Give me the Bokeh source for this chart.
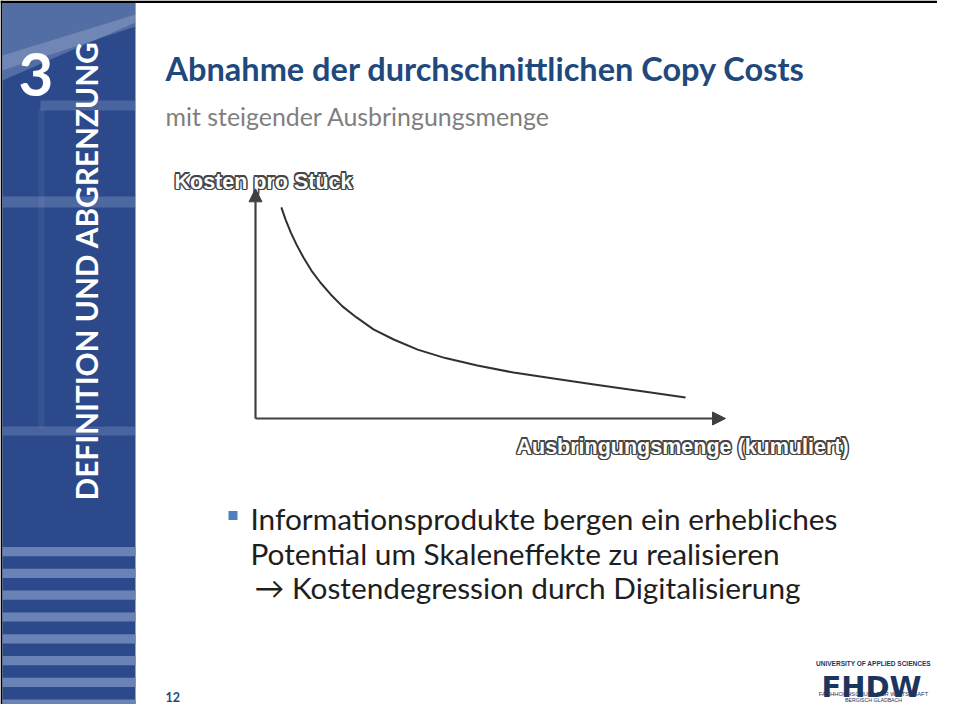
import numpy as np
from bokeh.plotting import figure
from bokeh.models import Range1d, Arrow, NormalHead
from bokeh.core.properties import value
from bokeh.embed import file_html
from bokeh.resources import INLINE

# ---------------- data ----------------
quantity = [5.5, 6.4, 7.5, 8.7, 10.2, 11.9, 13.8, 16.0, 18.5, 21.5, 25.1, 29.4,
            34.5, 40.4, 47.2, 54.9, 63.4, 72.8, 82.6, 91.5]
unit_cost = [91.9, 86.6, 81.0, 75.8, 70.1, 64.4, 59.2, 54.0, 48.8, 44.0, 38.8, 34.4,
             30.0, 26.3, 23.1, 20.0, 17.4, 14.6, 11.8, 9.1]
y_label = "Kosten pro Stück"
x_label = "Ausbringungsmenge (kumuliert)"
title = "Abnahme der durchschnittlichen Copy Costs"
subtitle = "mit steigender Ausbringungsmenge"
bullet_lines = ["Informationsprodukte bergen ein erhebliches",
                "Potential um Skaleneffekte zu realisieren"]
arrow_line = "\u2192 Kostendegression durch Digitalisierung"
section_number = "3"
section_title = "DEFINITION UND ABGRENZUNG"
page_number = "12"
logo_top = "UNIVERSITY OF APPLIED SCIENCES"
logo_name = "FHDW"
logo_sub1 = "FACHHOCHSCHULE DER WIRTSCHAFT"
logo_sub2 = "BERGISCH GLADBACH"

# ---------------- page / figure ----------------
W, H = 937, 704
X0, X1, Y0, Y1 = 0, W, H, 0          # picture-pixel coordinates (y downwards)
p = figure(width=W, height=H, x_range=Range1d(X0, X1), y_range=Range1d(Y0, Y1),
           output_backend="svg", toolbar_location=None, min_border=0,
           x_axis_location=None, y_axis_location=None)
p.grid.visible = False
p.outline_line_color = None
p.background_fill_color = "white"
p.border_fill_color = "white"

# chart coordinate system (0..100 in both directions)
ox, oy = 255.0, 418.0          # origin on page
sx, sy = 4.70, 2.297           # page px per chart unit
p.extra_x_ranges = {"q": Range1d((X0 - ox) / sx, (X1 - ox) / sx)}
p.extra_y_ranges = {"c": Range1d((oy - Y0) / sy, (oy - Y1) / sy)}

# ---------------- frame / sidebar ----------------
p.quad(left=X0, right=X1, top=0, bottom=2.5, fill_color="black", line_color=None)
p.quad(left=X0, right=2, top=0, bottom=Y0, fill_color="black", line_color=None)
p.quad(left=2, right=135, top=2.5, bottom=Y0, fill_color="#2c4a8b", line_color=None)
# soft light areas of the sidebar picture
p.patch(x=[2, 135, 135, 2], y=[2.5, 2.5, 22, 80], fill_color="#9fb2d8", fill_alpha=0.35, line_color=None)
p.patch(x=[2, 135, 135, 2], y=[55, 14, 26, 70], fill_color="#c9d5ec", fill_alpha=0.25, line_color=None)
p.quad(left=40, right=135, top=100, bottom=110, fill_color="#9fb2d8", fill_alpha=0.25, line_color=None)
p.quad(left=2, right=135, top=196, bottom=207, fill_color="#9fb2d8", fill_alpha=0.30, line_color=None)
p.quad(left=2, right=135, top=426, bottom=435, fill_color="#9fb2d8", fill_alpha=0.25, line_color=None)
p.quad(left=38, right=44, top=108, bottom=428, fill_color="#9fb2d8", fill_alpha=0.10, line_color=None)
for i in range(8):
    t = 546.5 + i * 21.8
    p.quad(left=2, right=135, top=t, bottom=t + 9.2, fill_color="#6b82b6", line_color=None)

p.text(x=[18], y=[74], text=[section_number], text_font=value("Lato"), text_font_style="bold",
       text_font_size="60px", text_color="white", text_baseline="alphabetic")
p.text(x=[86], y=[500], text=[section_title], angle=np.pi / 2, text_font=value("Lato"),
       text_font_style="bold", text_font_size="29.8px", text_color="white",
       text_baseline="middle", text_align="left")

# ---------------- titles ----------------
p.text(x=[165], y=[68], text=[title], text_font=value("Lato"), text_font_style="bold",
       text_font_size="32.5px", text_color="#1f497d", text_baseline="alphabetic")
p.text(x=[165], y=[115], text=[subtitle], text_font=value("Lato"),
       text_font_size="24.9px", text_color="#7f7f7f", text_baseline="alphabetic")

# ---------------- chart ----------------
axis_col = "#404040"
p.add_layout(Arrow(end=NormalHead(size=13, fill_color=axis_col, line_color=axis_col),
                   x_start=0, y_start=0, x_end=100, y_end=0, line_width=2.2,
                   line_color=axis_col, x_range_name="q", y_range_name="c"))
p.add_layout(Arrow(end=NormalHead(size=13, fill_color=axis_col, line_color=axis_col),
                   x_start=0, y_start=0, x_end=0, y_end=100, line_width=2.2,
                   line_color=axis_col, x_range_name="q", y_range_name="c"))
p.line(quantity, unit_cost, line_color="#303030", line_width=2, line_join="round",
       x_range_name="q", y_range_name="c")


def outlined(x, y, txt, size):
    offs = [(-1.5, 0), (1.5, 0), (0, -1.5), (0, 1.5), (-1.1, -1.1), (1.1, 1.1), (-1.1, 1.1), (1.1, -1.1)]
    for dx, dy in offs:
        p.text(x=[x], y=[y], text=[txt], x_offset=dx, y_offset=dy,
               text_font=value("Liberation Sans"), text_font_style="bold",
               text_font_size=size, text_color="#454545", text_baseline="alphabetic")
    p.text(x=[x], y=[y], text=[txt], text_font=value("Liberation Sans"), text_font_style="bold",
           text_font_size=size, text_color="white", text_baseline="alphabetic")


outlined(174, 181, y_label, "21.5px")
outlined(516, 446, x_label, "21.5px")

# ---------------- bullet text ----------------
p.quad(left=228, right=237, top=510.5, bottom=519.5, fill_color="#4f7fc0", line_color=None)
for i, line in enumerate(bullet_lines):
    p.text(x=[250], y=[518 + i * 34.5], text=[line], text_font=value("Lato"),
           text_font_size="29.8px", text_color="#1e1e1e", text_baseline="alphabetic")
p.text(x=[254], y=[586.5], text=[arrow_line], text_font=value("Lato"),
       text_font_size="29.8px", text_color="#1e1e1e", text_baseline="alphabetic")

# ---------------- footer ----------------
p.text(x=[165], y=[696], text=[page_number], text_font=value("Lato"), text_font_style="bold",
       text_font_size="12.5px", text_color="#1f497d", text_baseline="alphabetic")
navy = "#1c355e"
p.text(x=[873], y=[663], text=[logo_top], text_font=value("Liberation Sans"), text_font_style="bold",
       text_font_size="6.5px", text_color=navy, text_align="center", text_baseline="alphabetic")
p.text(x=[871], y=[686], text=[logo_name], text_font=value("DejaVu Sans"), text_font_style="bold",
       text_font_size="29px", text_color=navy, text_align="center", text_baseline="alphabetic")
p.text(x=[873], y=[693], text=[logo_sub1], text_font=value("Liberation Sans"),
       text_font_size="5.8px", text_color=navy, text_align="center", text_baseline="alphabetic")
p.text(x=[873], y=[699], text=[logo_sub2], text_font=value("Liberation Sans"),
       text_font_size="5.2px", text_color=navy, text_align="center", text_baseline="alphabetic")

open("out.html", "w").write(file_html(p, INLINE))
